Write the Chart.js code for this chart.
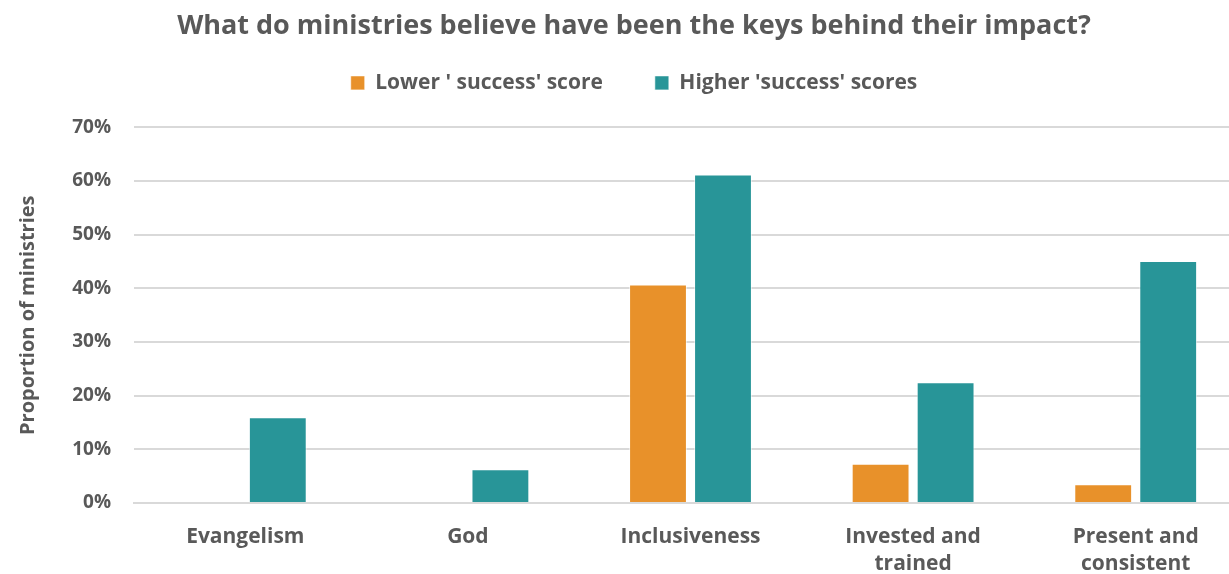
<!DOCTYPE html>
<html>
<head>
<meta charset="utf-8">
<script src="https://cdn.jsdelivr.net/npm/chart.js@4.4.1/dist/chart.umd.min.js"></script>
<style>
  html, body { margin: 0; padding: 0; background: #fff; overflow: hidden; }
  #wrap { width: 1268px; height: 574px; }
</style>
</head>
<body>
<div id="wrap"><canvas id="keysChart" width="1268" height="574"></canvas></div>
<script>
// Data: share of ministries naming each key, split by success score
const categories = ['Evangelism', 'God', 'Inclusiveness', ['Invested and', 'trained'], ['Present and', 'consistent']];
const lowerScore = [null, null, 40.7, 7.3, 3.5];
const higherScore = [16.0, 6.3, 61.2, 22.5, 45.1];
const yTicks = [0, 10, 20, 30, 40, 50, 60, 70];

const textColor = '#595959';
const gridColor = '#d9d9d9';
const fontFamily = '"Open Sans", Lato, sans-serif';

// Push the plot area down below the legend
Chart.register({
    id: 'legendSpacing',
    beforeInit: function(chart) {
        const legend = chart.legend;
        const originalFit = legend.fit;
        legend.fit = function() {
            originalFit.bind(legend)();
            this.height = 107;
        };
    }
});

const ctx = document.getElementById('keysChart').getContext('2d');
new Chart(ctx, {
    type: 'bar',
    data: {
        labels: categories,
        datasets: [{
            label: "Lower ' success' score",
            data: lowerScore,
            backgroundColor: '#e8912a',
            borderColor: 'rgba(255,255,255,0.6)',
            borderWidth: 1,
            categoryPercentage: 0.584,
            barPercentage: 0.89
        }, {
            label: "Higher 'success' scores",
            data: higherScore,
            backgroundColor: '#289598',
            borderColor: 'rgba(255,255,255,0.6)',
            borderWidth: 1,
            categoryPercentage: 0.584,
            barPercentage: 0.89
        }]
    },
    options: {
        responsive: false,
        animation: false,
        layout: { padding: 0 },
        plugins: {
            title: {
                display: true,
                text: 'What do ministries believe have been the keys behind their impact?',
                color: textColor,
                font: { family: fontFamily, size: 27, weight: 'bold' },
                padding: { top: 10, bottom: -22 }
            },
            legend: {
                display: true,
                labels: {
                    color: textColor,
                    font: { family: fontFamily, size: 21, weight: 'bold' },
                    boxWidth: 14,
                    boxHeight: 14,
                    padding: 52
                }
            },
            tooltip: { enabled: false }
        },
        scales: {
            x: {
                grid: { display: false, drawTicks: false },
                border: { display: true, color: gridColor, width: 2 },
                ticks: {
                    color: textColor,
                    font: { family: fontFamily, size: 21, weight: 'bold', lineHeight: 1.3 },
                    padding: 20,
                    maxRotation: 0
                },
                afterFit: function(scale) { scale.height = 71; }
            },
            y: {
                min: 0,
                max: 70,
                afterBuildTicks: function(scale) {
                    scale.ticks = yTicks.map(v => ({ value: v }));
                },
                grid: { color: gridColor, lineWidth: 2, drawTicks: false },
                border: { display: false },
                ticks: {
                    color: textColor,
                    font: { family: fontFamily, size: 19, weight: 'bold' },
                    padding: 23,
                    callback: v => v + '%'
                },
                title: {
                    display: true,
                    text: 'Proportion of ministries',
                    color: textColor,
                    font: { family: fontFamily, size: 20, weight: 'bold' },
                    padding: { top: 16, bottom: 0 }
                },
                afterFit: function(scale) { scale.width = 134; }
            },
            // empty right-hand margin so the plot runs past the visible edge
            yRight: {
                type: 'linear',
                position: 'right',
                display: true,
                grid: { display: false, drawTicks: false },
                border: { display: false },
                ticks: { display: false },
                afterFit: function(scale) { scale.width = 21; }
            }
        }
    }
});
</script>
</body>
</html>
